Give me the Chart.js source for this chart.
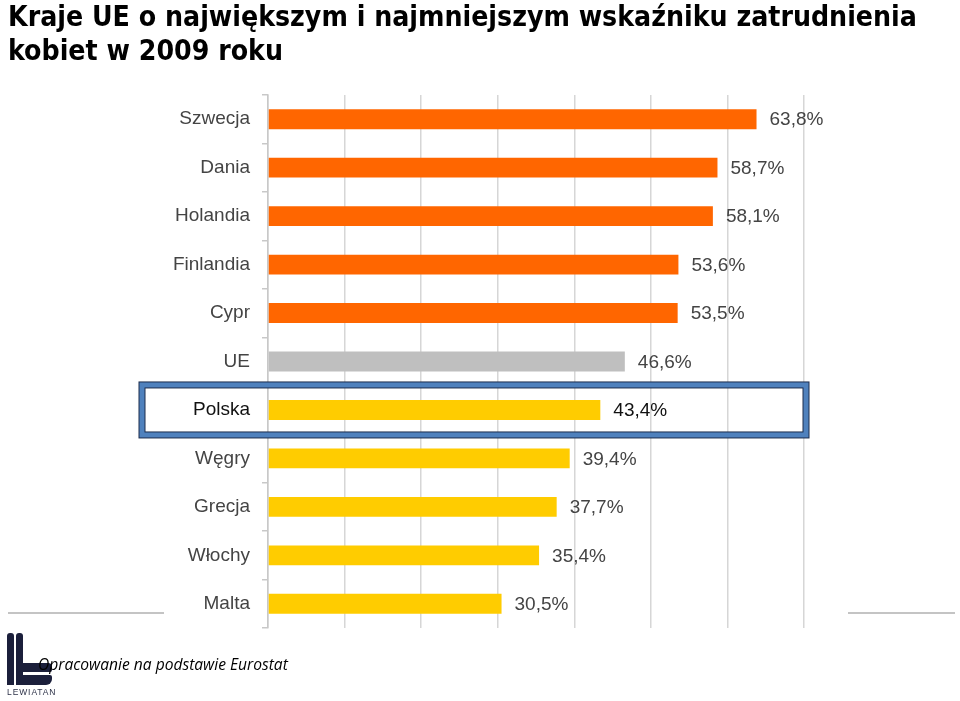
<!DOCTYPE html>
<html lang="pl">
<head>
<meta charset="utf-8">
<script src="https://cdn.jsdelivr.net/npm/chart.js@4/dist/chart.umd.min.js"></script>
<style>
  html, body { margin: 0; padding: 0; background: #fff; }
  body { width: 960px; height: 701px; position: relative; overflow: hidden; }
  #title {
    position: absolute; left: 8px; top: 0px; margin: 0;
    font-family: "DejaVu Sans Condensed", "DejaVu Sans", sans-serif;
    font-weight: bold; font-size: 28.2px; line-height: 34px; color: #000;
    white-space: nowrap;
  }
  #chart { position: absolute; left: 0; top: 0; }
  .rule { position: absolute; top: 612px; height: 2px; background: #c4c4c4; }
  #source {
    position: absolute; left: 38px; top: 653px;
    font-family: "Open Sans", "Liberation Sans", sans-serif;
    font-style: italic; font-size: 15.6px; color: #000; white-space: nowrap;
  }
  .logo { position: absolute; background: #1b1f3b; }
  #logoText {
    position: absolute; left: 7px; top: 687px;
    font-family: "Liberation Sans", sans-serif; font-size: 8.5px;
    letter-spacing: 0.9px; color: #2d3248;
  }
</style>
</head>
<body>
<div class="rule" style="left:8px;width:156px"></div>
<div class="rule" style="left:848px;width:107px"></div>
<canvas id="chart" width="960" height="701"></canvas>
<h1 id="title">Kraje UE o największym i najmniejszym wskaźniku zatrudnienia<br>kobiet w 2009 roku</h1>

<div class="logo" style="left:7px;top:633px;width:7px;height:52px;border-radius:3px 3px 0 0"></div>
<div class="logo" style="left:16px;top:633px;width:7px;height:52px;border-radius:3px 3px 0 0"></div>
<div class="logo" style="left:23px;top:663px;width:29px;height:9px;border-radius:0 4px 2px 0"></div>
<div class="logo" style="left:23px;top:675px;width:29px;height:10px;border-radius:0 2px 6px 0"></div>
<div id="logoText">LEWIATAN</div>
<div id="source">Opracowanie na podstawie Eurostat</div>

<script>
// dane: wskaźnik zatrudnienia kobiet w 2009 r. (%)
const countries = ['Szwecja', 'Dania', 'Holandia', 'Finlandia', 'Cypr', 'UE',
                   'Polska', 'Węgry', 'Grecja', 'Włochy', 'Malta'];
const rates = [63.8, 58.7, 58.1, 53.6, 53.5, 46.6, 43.4, 39.4, 37.7, 35.4, 30.5];
const groups = ['top', 'top', 'top', 'top', 'top', 'eu',
                'bottom', 'bottom', 'bottom', 'bottom', 'bottom'];
const xTicks = [0, 10, 20, 30, 40, 50, 60, 70];
const highlighted = 'Polska';

const groupColors = { top: '#ff6600', eu: '#bfbfbf', bottom: '#ffcc00' };
const highlightIndex = countries.indexOf(highlighted);

function formatPct(v) {
    return v.toFixed(1).replace('.', ',') + '%';
}

// etykiety wartości przy końcach słupków
const valueLabels = {
    id: 'valueLabels',
    afterDatasetsDraw(chart) {
        const ctx = chart.ctx;
        const meta = chart.getDatasetMeta(0);
        ctx.save();
        ctx.font = '19px "Liberation Sans", Arial, sans-serif';
        ctx.textBaseline = 'middle';
        ctx.textAlign = 'left';
        meta.data.forEach((bar, i) => {
            ctx.fillStyle = i === highlightIndex ? '#111' : '#444';
            ctx.fillText(formatPct(rates[i]), bar.x + 13, bar.y + 1);
        });
        ctx.restore();
    }
};

// ramka wokół Polski
const highlightBox = {
    id: 'highlightBox',
    afterDraw(chart) {
        const ctx = chart.ctx;
        const area = chart.chartArea;
        const bar = chart.getDatasetMeta(0).data[highlightIndex];
        const left = area.left - 126, right = area.right + 2;
        const top = bar.y - 25, bottom = bar.y + 25;
        ctx.save();
        ctx.lineWidth = 7;
        ctx.strokeStyle = '#1c2c4c';
        ctx.strokeRect(left, top, right - left, bottom - top);
        ctx.lineWidth = 5;
        ctx.strokeStyle = '#4f81bd';
        ctx.strokeRect(left, top, right - left, bottom - top);
        ctx.restore();
    }
};

new Chart(document.getElementById('chart'), {
    type: 'bar',
    data: {
        labels: countries,
        datasets: [{
            data: rates,
            backgroundColor: groups.map(g => groupColors[g]),
            categoryPercentage: 1,
            barPercentage: 0.41
        }]
    },
    options: {
        indexAxis: 'y',
        responsive: false,
        animation: false,
        devicePixelRatio: 1,
        layout: { padding: { top: 95, bottom: 73, left: 0, right: 156 } },
        plugins: { legend: { display: false }, tooltip: { enabled: false } },
        scales: {
            x: {
                min: xTicks[0],
                max: xTicks[xTicks.length - 1],
                afterBuildTicks: s => { s.ticks = xTicks.map(v => ({ value: v })); },
                afterFit: s => { s.height = 0; },
                ticks: { display: false },
                grid: { color: '#d6d6d6', lineWidth: 1.5, drawTicks: false },
                border: { display: false }
            },
            y: {
                afterFit: s => { s.width = 268; },
                ticks: {
                    padding: 12,
                    font: { family: '"Liberation Sans", Arial, sans-serif', size: 19 },
                    color: c => c.index === highlightIndex ? '#111' : '#444'
                },
                grid: { drawOnChartArea: false, tickLength: 6, color: '#c8c8c8', lineWidth: 1.5 },
                border: { color: '#c8c8c8', width: 1.5 }
            }
        }
    },
    plugins: [valueLabels, highlightBox]
});
</script>
</body>
</html>
